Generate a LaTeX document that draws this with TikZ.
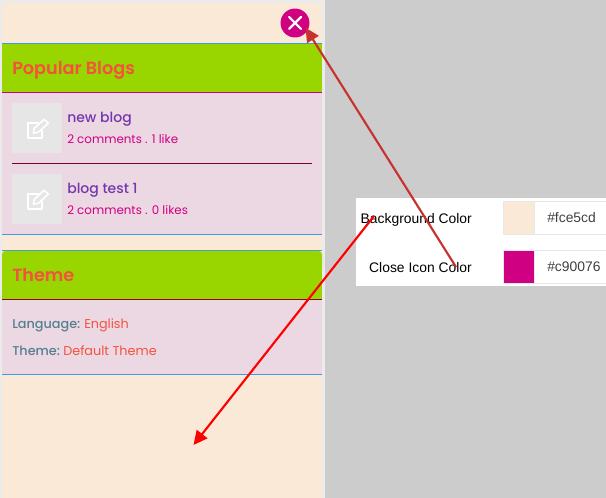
\documentclass[tikz,border=0pt]{standalone}
\usepackage{fontspec}
\usetikzlibrary{arrows.meta,calc}
\setmainfont{Liberation Sans}
\newfontfamily\pop{Poppins}
\newfontfamily\popm{Poppins Medium}
\newfontfamily\pops{Poppins SemiBold}
\definecolor{peach}{HTML}{FBE9D7}
\definecolor{closepink}{HTML}{CF0082}
\definecolor{headgreen}{HTML}{99D600}
\definecolor{bodypink}{HTML}{ECD8E2}
\definecolor{thumbgray}{HTML}{E6E6E6}
\definecolor{linkblue}{HTML}{3D9BE0}
\definecolor{darkline}{HTML}{7A0026}
\definecolor{titlered}{HTML}{F4513F}
\definecolor{blogpurple}{HTML}{7338AC}
\definecolor{labelteal}{HTML}{55808F}
\definecolor{arrowdark}{HTML}{C6322F}
\definecolor{cellline}{HTML}{E8E8E8}
\newcommand{\editicon}[1]{
    \draw[icon] ($(#1)+(1,-5)$) -- ++(-10,0) -- ++(0,15) -- ++(14,0) -- ++(0,-8);
    \draw[icon] ($(#1)+(-4,5)$) -- ++(1,-5) -- ++(10,-9) -- ++(4,4) -- ++(-10,9) -- cycle;
}
\begin{document}
\begin{tikzpicture}[x=0.75pt,y=-0.75pt,
    title/.style={anchor=base west, inner sep=0pt, text=titlered, font=\pops\fontsize{13.2pt}{15pt}\selectfont},
    blog/.style={anchor=base west, inner sep=0pt, text=blogpurple, font=\popm\fontsize{10.5pt}{12pt}\selectfont},
    stats/.style={anchor=base west, inner sep=0pt, text=closepink, font=\pop\fontsize{8.9pt}{11pt}\selectfont},
    lang/.style={anchor=base west, inner sep=0pt, text=labelteal, font=\popm\fontsize{9.6pt}{11pt}\selectfont},
    value/.style={anchor=base west, inner sep=0pt, text=titlered, font=\pop\fontsize{9.6pt}{11pt}\selectfont},
    thumb/.style={rectangle, fill=thumbgray, anchor=north west, minimum width=37.5pt, minimum height=37.5pt, inner sep=0pt},
    swatch/.style={rectangle, anchor=north west, minimum width=22.5pt, minimum height=24pt, inner sep=0pt},
    cell/.style={draw=cellline, line width=0.8pt, fill=white, rectangle, anchor=north west, minimum width=80pt, minimum height=24.75pt, inner sep=0pt},
    rowlabel/.style={anchor=base east, inner sep=0pt, font=\fontsize{10.4pt}{12pt}\selectfont},
    hexcode/.style={anchor=base west, inner sep=0pt, text=black!75, font=\fontsize{10.4pt}{12pt}\selectfont},
    icon/.style={draw=white, line width=1.2pt, line join=round, line cap=round},
    callout/.style={line width=1.6pt, -{Triangle[length=10.5pt,width=10pt]}}]
    \useasboundingbox (0,0) rectangle (606,498);
    \fill[black!20] (0,0) rectangle (606,498);

    % Panel
    \fill[white!92!black] (0,0) rectangle (325,498);
    \fill[peach] (2,3) rectangle (322,498);

    % Popular blogs
    \fill[linkblue] (2,42.6) rectangle (322,44);
    \fill[headgreen] (2,44) rectangle (322,92);
    \fill[bodypink] (2,92) rectangle (322,234);
    \fill[closepink] (2,91.6) rectangle (322,93);
    \node[title] (blogsTitle) at (12,75) {Popular Blogs};
    \node[thumb] (thumb1) at (12,103) {};
    \node[blog] (blog1) at (67,123) {new blog};
    \node[stats] (stats1) at (67,144) {2 comments . 1 like};
    \fill[darkline] (12,162.8) rectangle (312,163.8);
    \node[thumb] (thumb2) at (12,174) {};
    \node[blog] (blog2) at (67,194) {blog test 1};
    \node[stats] (stats2) at (67,215) {2 comments . 0 likes};
    \editicon{thumb1.center}
    \editicon{thumb2.center}
    \fill[linkblue] (2,233.8) rectangle (322,235);
    \fill[linkblue] (2,249.8) rectangle (322,251);

    % Theme
    \fill[headgreen, rounded corners=2.5pt] (2,251) rectangle (322,270);
    \fill[headgreen] (2,262) rectangle (322,299);
    \fill[bodypink] (2,299) rectangle (322,374);
    \fill[darkline!80!red] (2,298.6) rectangle (322,300);
    \node[title] (themeTitle) at (12,282) {Theme};
    \node[lang] (langLabel) at (12,329) {Language:};
    \node[value] (langValue) at (84,329) {English};
    \node[lang] (themeLabel) at (12,356) {Theme:};
    \node[value] (themeValue) at (63,356) {Default Theme};
    \fill[linkblue] (2,373.8) rectangle (322,375);

    % Close button
    \node[circle, fill=closepink, minimum size=21.7pt, inner sep=0pt] (closeBtn) at (295,23) {};
    \draw[white, line width=1.6pt, line cap=round] (289,17) -- (301,29) (301,17) -- (289,29);

    % Colour table
    \fill[white] (356,198) rectangle (606,286);
    \node[rowlabel] (bgLabel) at (472,223.5) {Background Color};
    \node[rowlabel] (iconLabel) at (472,272.5) {Close Icon Color};
    \node[cell] (bgCell) at (503,201) {};
    \node[cell] (iconCell) at (503,250) {};
    \node[swatch, fill=peach] (bgSwatch) at (504,201.5) {};
    \node[swatch, fill=closepink] (iconSwatch) at (504,250.8) {};
    \draw[cellline, line width=0.8pt] (bgSwatch.north east) -- (bgSwatch.south east);
    \draw[cellline, line width=0.8pt] (iconSwatch.north east) -- (iconSwatch.south east);
    \node[hexcode] (bgHex) at (547,223) {\#fce5cd};
    \node[hexcode] (iconHex) at (547,272) {\#c90076};

    % Arrows
    \coordinate (bgStart) at (374,216);
    \coordinate (bgEnd) at (193.5,445);
    \coordinate (iconStart) at (456,267);
    \coordinate (iconEnd) at (305.5,27.7);
    \draw[callout, red] (bgStart) -- (bgEnd);
    \draw[callout, arrowdark] (iconStart) -- (iconEnd);
\end{tikzpicture}
\end{document}
